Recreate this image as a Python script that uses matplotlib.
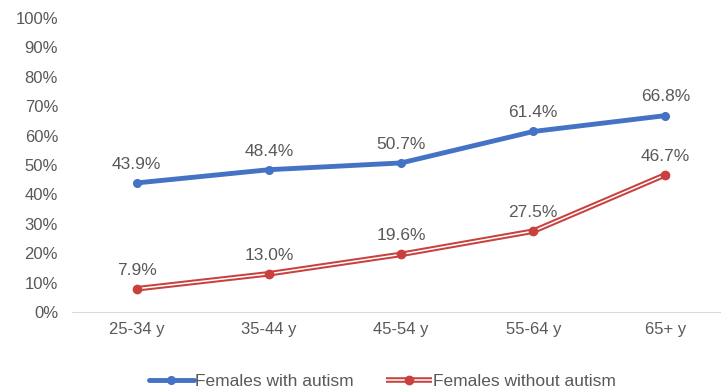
import matplotlib.pyplot as plt
from matplotlib.legend_handler import HandlerTuple
from matplotlib.ticker import PercentFormatter

plt.rcParams['font.family'] = ['Liberation Sans', 'DejaVu Sans']

age_groups = ['25-34 y', '35-44 y', '45-54 y', '55-64 y', '65+ y']
with_autism = [43.9, 48.4, 50.7, 61.4, 66.8]
without_autism = [7.9, 13.0, 19.6, 27.5, 46.7]

blue = '#4472C4'
red = '#C9413F'
grey = '#595959'

fig = plt.figure(figsize=(7.21, 3.89), dpi=100)
ax = fig.add_axes([72 / 721, 77 / 389, 649 / 721, 294 / 389])

x = range(len(age_groups))

# autism series: plain solid line
h1, = ax.plot(x, with_autism, color=blue, lw=3.5, marker='o', ms=5.5,
              solid_capstyle='round', zorder=3)

# non-autism series: double (compound) line = thick red with white core
h2a, = ax.plot(x, without_autism, color=red, lw=4.0, solid_capstyle='butt',
               zorder=3)
h2b, = ax.plot(x, without_autism, color='white', lw=1.1, zorder=4)
h2c, = ax.plot(x, without_autism, ls='none', marker='o', ms=6, color=red,
               zorder=5)

for xi, v in zip(x, with_autism):
    ax.annotate(f'{v:.1f}%', (xi, v), xytext=(0, 8), textcoords='offset points',
                ha='center', va='bottom', fontsize=12.5, color=grey)
for xi, v in zip(x, without_autism):
    ax.annotate(f'{v:.1f}%', (xi, v), xytext=(0, 8), textcoords='offset points',
                ha='center', va='bottom', fontsize=12.5, color=grey)

ax.set_xlim(-0.49, 4.42)
ax.set_ylim(0, 100)
ax.set_yticks(range(0, 101, 10))
ax.yaxis.set_major_formatter(PercentFormatter(decimals=0))
ax.set_xticks(list(x))
ax.set_xticklabels(age_groups)
ax.tick_params(length=0, labelsize=12, colors=grey, pad=7)
ax.tick_params(axis='y', pad=10)

for side in ['top', 'right', 'left']:
    ax.spines[side].set_visible(False)
ax.spines['bottom'].set_color('#D9D9D9')

fig.legend([h1, (h2a, h2b, h2c)], ['Females with autism', 'Females without autism'],
           handler_map={tuple: HandlerTuple(ndivide=1)},
           loc='center', bbox_to_anchor=(0.53, 0.02), ncol=2, frameon=False,
           fontsize=12.5, labelcolor=grey, handlelength=2.6, handletextpad=0.05,
           columnspacing=1.9)

fig.savefig('out.png', dpi=100)
